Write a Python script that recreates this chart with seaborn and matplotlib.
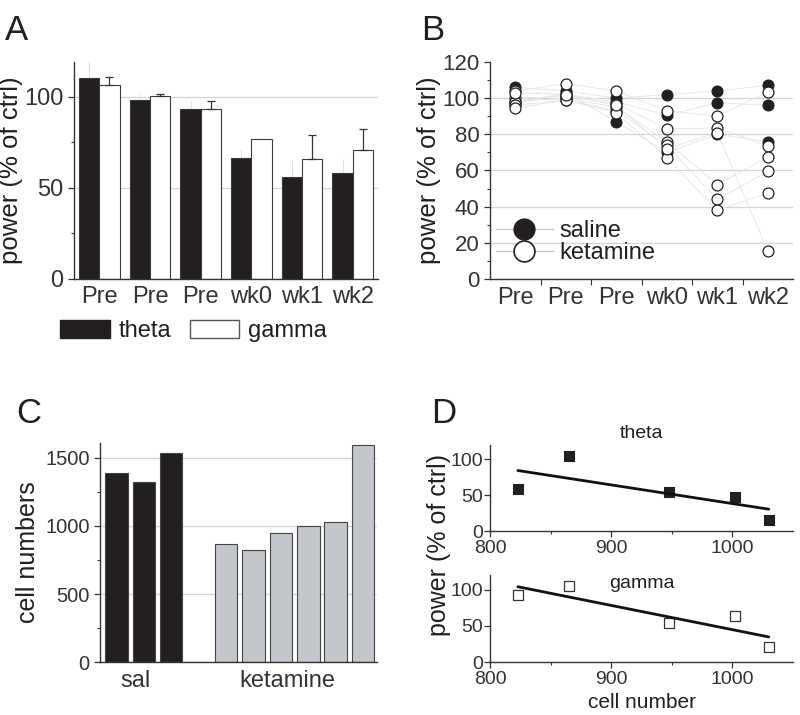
# Power / cell number figure (panels A-D)

import numpy as np
import pandas as pd

import matplotlib
matplotlib.use("Agg")
import matplotlib.pyplot as plt
from matplotlib.patches import Patch
from matplotlib.lines import Line2D
from matplotlib.ticker import MultipleLocator, FixedLocator
import seaborn as sns

# ============================================
# DATA
# ============================================

timepoints = ["Pre", "Pre", "Pre", "wk0", "wk1", "wk2"]

theta_mean = [110, 98, 93, 66.5, 56, 58]
theta_err = [9, 4, 4.5, 4, 9.5, 8]
gamma_mean = [106.5, 100.5, 93, 76.5, 66, 70.5]
gamma_err = [4, 1, 4.5, 0, 13, 11.5]

saline_animals = [
    [106, 104, 100, 102, 104, 107],
    [98, 102, 98, 90.5, 97.5, 96],
    [97, 103, 87, 70, 80, 76],
]
ketamine_animals = [
    [104, 108, 104, 93, 90, 103.5],
    [100, 101, 97, 83, 83.5, 73.5],
    [98, 100, 95, 76, 52, 67.5],
    [96, 99, 93, 74, 44, 59.5],
    [94.5, 99, 92, 67, 38, 47.5],
    [103, 102, 96, 72, 81, 15.5],
]

cell_sal = [1393, 1325, 1540]
cell_ket = [866, 827, 950, 1003, 1030, 1593]

corr_cells = [823, 865, 948, 1002, 1030]
corr_theta = [58, 104, 54, 47, 15]
corr_gamma = [92.5, 105, 54, 63, 20.5]

# ============================================
# STYLE
# ============================================

sns.set_theme(style="ticks")
plt.rcParams["font.family"] = ["Liberation Sans", "DejaVu Sans"]
ink = "#231f20"
plt.rcParams["text.color"] = ink
plt.rcParams["axes.labelcolor"] = ink
plt.rcParams["xtick.color"] = "#333333"
plt.rcParams["ytick.color"] = "#333333"
plt.rcParams["axes.edgecolor"] = "#333333"
plt.rcParams["axes.linewidth"] = 1.0

grid_col = "#d4d4d4"

fig = plt.figure(figsize=(8, 7.15), dpi=100)


def base_axes(ax, tick_fs):
    sns.despine(ax=ax)
    ax.tick_params(axis="both", which="major", direction="out", length=4,
                   width=0.9, labelsize=tick_fs)
    ax.tick_params(axis="both", which="minor", direction="out", length=2.5,
                   width=0.8)


# ============================================
# A. mean power bars
# ============================================

axA = fig.add_axes([0.0925, 0.6098, 0.38, 0.3035])

dfA = pd.DataFrame({
    "t": list(range(len(timepoints))) * 2,
    "power": theta_mean + gamma_mean,
    "band": ["theta"] * len(theta_mean) + ["gamma"] * len(gamma_mean),
})

sns.barplot(
    data=dfA, x="t", y="power", hue="band",
    palette={"theta": ink, "gamma": "white"},
    edgecolor="#3a3a3a", linewidth=0.8, width=0.8,
    saturation=1, errorbar=None, legend=False, ax=axA, zorder=2,
)

bars = [p for p in axA.patches if p.get_height() > 0]
xs = np.array([p.get_x() + p.get_width() / 2 for p in bars])
xs_theta = xs[:len(theta_mean)]
xs_gamma = xs[len(theta_mean):]

axA.errorbar(xs_theta, theta_mean,
             yerr=[np.zeros(len(theta_err)), theta_err],
             fmt="none", ecolor="#e2e2e2", elinewidth=0.8, capsize=0, zorder=1)
g_err = np.array(gamma_err)
keep = g_err > 0
axA.errorbar(xs_gamma[keep], np.array(gamma_mean)[keep],
             yerr=[np.zeros(keep.sum()), g_err[keep]],
             fmt="none", ecolor="#333333", elinewidth=0.9, capsize=3,
             capthick=0.9, zorder=3)

axA.set_xlim(-0.5, len(timepoints) - 0.5)
axA.set_ylim(0, 119)
axA.yaxis.set_major_locator(FixedLocator([0, 50, 100]))
axA.yaxis.set_minor_locator(FixedLocator([25, 75]))
axA.set_axisbelow(True)
axA.yaxis.grid(True, color=grid_col, lw=0.9)
base_axes(axA, 17)
axA.set_xticks(range(len(timepoints)))
axA.set_xticklabels(timepoints)
axA.tick_params(axis="x", length=0, pad=5)
axA.set_xlabel("")
axA.set_ylabel("power (% of ctrl)", fontsize=18.5, labelpad=1)

handlesA = [
    Patch(facecolor=ink, edgecolor=ink, label="theta"),
    Patch(facecolor="white", edgecolor="#555555", label="gamma"),
]
axA.legend(handles=handlesA, ncol=2, loc="upper left",
           bbox_to_anchor=(-0.045, -0.19), frameon=False, fontsize=17,
           handlelength=2.1, handleheight=0.75, handletextpad=0.35,
           columnspacing=0.8, borderpad=0, borderaxespad=0)

# ============================================
# B. single animals
# ============================================

axB = fig.add_axes([0.6125, 0.6098, 0.3788, 0.3035])

rows = []
for i, vals in enumerate(saline_animals):
    for t, v in enumerate(vals):
        rows.append(("saline", f"s{i}", t, v))
for i, vals in enumerate(ketamine_animals):
    for t, v in enumerate(vals):
        rows.append(("ketamine", f"k{i}", t, v))
dfB = pd.DataFrame(rows, columns=["group", "animal", "t", "power"])

sns.lineplot(data=dfB, x="t", y="power", units="animal", estimator=None,
             color="#e4e4e4", lw=0.6, ax=axB, zorder=1)
sns.scatterplot(data=dfB[dfB.group == "saline"], x="t", y="power",
                color=ink, edgecolor=ink, linewidth=0.8, s=62,
                ax=axB, zorder=3)
sns.scatterplot(data=dfB[dfB.group == "ketamine"], x="t", y="power",
                color="white", edgecolor=ink, linewidth=0.9, s=62,
                ax=axB, zorder=4)

axB.set_xlim(-0.5, len(timepoints) - 0.5)
axB.set_ylim(0, 120)
axB.yaxis.set_major_locator(MultipleLocator(20))
axB.yaxis.set_minor_locator(MultipleLocator(10))
axB.set_axisbelow(True)
for yv in range(20, 120, 20):
    axB.axhline(yv, color=grid_col, lw=0.9, zorder=0)
base_axes(axB, 16)
axB.set_xticks(range(len(timepoints)))
axB.set_xticklabels(timepoints, fontsize=17)
axB.xaxis.set_minor_locator(FixedLocator(np.arange(0.5, len(timepoints) - 1, 1)))
axB.tick_params(axis="x", which="major", length=0, pad=6)
axB.tick_params(axis="x", which="minor", length=4)
axB.set_xlabel("")
axB.set_ylabel("power (% of ctrl)", fontsize=18.5, labelpad=1)

handlesB = [
    Line2D([], [], color="#c4c4c4", lw=0.9, marker="o", markersize=15,
           markerfacecolor=ink, markeredgecolor=ink, label="saline"),
    Line2D([], [], color="#c4c4c4", lw=0.9, marker="o", markersize=15,
           markerfacecolor="white", markeredgecolor=ink, markeredgewidth=1.2,
           label="ketamine"),
]
axB.legend(handles=handlesB, loc="lower left", bbox_to_anchor=(0.02, 0.07),
           frameon=False, fontsize=17, handlelength=2.4, handletextpad=0.3,
           labelspacing=0.0, borderpad=0, borderaxespad=0)

# ============================================
# C. cell numbers
# ============================================

axC = fig.add_axes([0.125, 0.0741, 0.346, 0.3063])

pos_sal = list(range(len(cell_sal)))
pos_ket = [len(cell_sal) + 1 + i for i in range(len(cell_ket))]
dfC = pd.DataFrame({
    "pos": pos_sal + pos_ket,
    "cells": cell_sal + cell_ket,
    "group": ["sal"] * len(cell_sal) + ["ket"] * len(cell_ket),
})
sns.barplot(
    data=dfC, x="pos", y="cells", hue="group",
    palette={"sal": ink, "ket": "#c3c6ca"},
    native_scale=True, dodge=False, width=0.82,
    edgecolor="#444444", linewidth=0.8, saturation=1,
    errorbar=None, legend=False, ax=axC, zorder=2,
)
axC.set_xlim(-0.6, pos_ket[-1] + 0.5)
axC.set_ylim(0, 1610)
axC.yaxis.set_major_locator(FixedLocator([0, 500, 1000, 1500]))
axC.yaxis.set_minor_locator(FixedLocator([250, 750, 1250]))
axC.set_axisbelow(True)
axC.yaxis.grid(True, color=grid_col, lw=0.9)
base_axes(axC, 14.5)
axC.set_xticks([np.mean(pos_sal) - 0.3, np.mean(pos_ket) - 0.25])
axC.set_xticklabels(["sal", "ketamine"], fontsize=17)
axC.tick_params(axis="x", length=0, pad=6)
axC.set_xlabel("")
axC.set_ylabel("cell numbers", fontsize=18, labelpad=4)

# ============================================
# D. power vs cell number
# ============================================

axD1 = fig.add_axes([0.6125, 0.2573, 0.3788, 0.1203])
axD2 = fig.add_axes([0.6125, 0.0737, 0.3788, 0.1221])

sns.regplot(x=corr_cells, y=corr_theta, ci=None, marker="s", color=ink,
            scatter_kws=dict(s=62, alpha=1, linewidths=0.8),
            line_kws=dict(color="#111111", lw=2), ax=axD1)
sns.regplot(x=corr_cells, y=corr_gamma, ci=None, marker="s", color=ink,
            scatter_kws=dict(s=62, alpha=1, facecolor="white",
                             edgecolor="#333333", linewidths=0.9),
            line_kws=dict(color="#111111", lw=2), ax=axD2)

for ax in (axD1, axD2):
    ax.set_xlim(800, 1050)
    ax.set_ylim(0, 120)
    ax.xaxis.set_major_locator(FixedLocator([800, 900, 1000]))
    ax.xaxis.set_minor_locator(FixedLocator([850, 950]))
    ax.yaxis.set_major_locator(FixedLocator([0, 50, 100]))
    base_axes(ax, 14)
    ax.tick_params(axis="x", pad=2.5)
    ax.tick_params(axis="y", pad=1)
    ax.set_xlabel("")
    ax.set_ylabel("")

axD1.text(0.5, 1.03, "theta", transform=axD1.transAxes, ha="center",
          va="bottom", fontsize=14)
axD2.text(0.5, 0.9, "gamma", transform=axD2.transAxes, ha="center",
          va="center", fontsize=14)

fig.text(0.549, 0.238, "power (% of ctrl)", rotation=90, ha="center",
         va="center", fontsize=18)
fig.text(0.8025, 0.018, "cell number", ha="center", va="center", fontsize=15)

# panel letters
fig.text(0.006, 0.944, "A", fontsize=25)
fig.text(0.526, 0.944, "B", fontsize=25)
fig.text(0.020, 0.408, "C", fontsize=25)
fig.text(0.539, 0.408, "D", fontsize=25)

fig.savefig("out.png", dpi=100, facecolor="white")
